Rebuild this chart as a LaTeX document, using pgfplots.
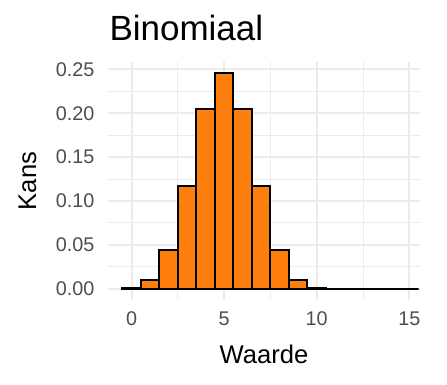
\documentclass[border=0pt]{standalone}
\usepackage{pgfplots}
\pgfplotsset{compat=1.18}
\usepackage{fontspec}
\setmainfont{Liberation Sans}
\definecolor{barfill}{HTML}{FF7F0E}
\definecolor{gridc}{HTML}{EBEBEB}
\definecolor{tickc}{HTML}{4D4D4D}
\begin{document}
\begin{tikzpicture}[x=1bp,y=1bp]
\path (0,0) rectangle (447,384);
\begin{axis}[
  at={(108bp,84.5bp)}, anchor=south west,
  scale only axis, width=312bp, height=237.5bp,
  xmin=-1.28, xmax=15.58, ymin=-0.0123, ymax=0.2584,
  axis line style={draw=none},
  major tick length=0pt, minor tick length=0pt,
  xtick={0,5,10,15}, minor xtick={2.5,7.5,12.5},
  ytick={0,0.05,0.10,0.15,0.20,0.25}, minor ytick={0.025,0.075,0.125,0.175,0.225},
  yticklabel style={/pgf/number format/fixed,/pgf/number format/precision=2,/pgf/number format/fixed zerofill},
  /pgf/number format/assume math mode=true,
  scaled y ticks=false,
  tick label style={font=\fontsize{19.8bp}{22bp}\selectfont, text=tickc},
  xticklabel style={yshift=-9bp},
  yticklabel style={xshift=-10bp},
  grid=both,
  major grid style={draw=gridc, line width=2bp},
  minor grid style={draw=gridc, line width=1bp},
  clip=false,
]
\addplot[ybar, bar width=1, bar shift=0pt, fill=barfill, draw=black, line width=2bp]
coordinates {
(0,0.000977)(1,0.009766)(2,0.043945)(3,0.117188)(4,0.205078)(5,0.246094)
(6,0.205078)(7,0.117188)(8,0.043945)(9,0.009766)(10,0.000977)
(11,0)(12,0)(13,0)(14,0)(15,0)};
\end{axis}
\node[anchor=base west, font=\fontsize{35bp}{40bp}\selectfont] at (106,344) {Binomiaal};
\node[anchor=base, font=\fontsize{25.6bp}{30bp}\selectfont] at (264,21) {Waarde};
\node[anchor=base, rotate=90, font=\fontsize{25.6bp}{30bp}\selectfont] at (36,203) {Kans};
\end{tikzpicture}
\end{document}
